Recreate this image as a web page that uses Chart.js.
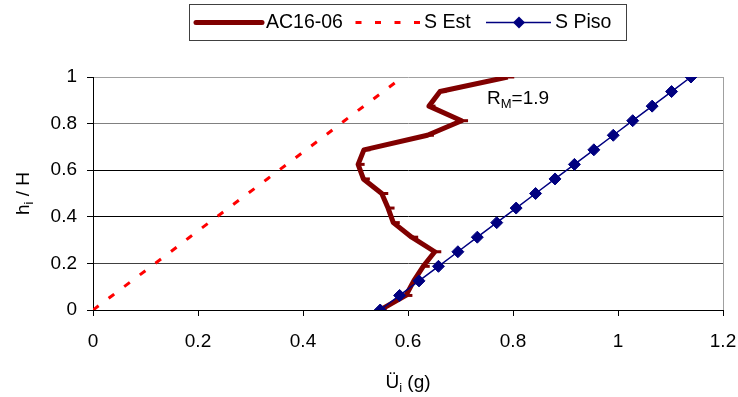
<!DOCTYPE html>
<html><head><meta charset="utf-8">
<script src="https://cdn.jsdelivr.net/npm/chart.js@4/dist/chart.umd.min.js"></script>
<style>html,body{margin:0;padding:0;background:#fff}#wrap{width:738px;height:397px}</style>
</head><body><div id="wrap"><canvas id="c" width="738" height="397"></canvas></div>
<script>
// ---- data ----
const levels = [0, 0.0625, 0.125, 0.1875, 0.25, 0.3125, 0.375, 0.4375, 0.5, 0.5625, 0.625, 0.6875, 0.75, 0.8125, 0.875, 0.9375, 1];
const acValues = [0.547, 0.596, 0.611, 0.629, 0.651, 0.607, 0.572, 0.562, 0.550, 0.515, 0.505, 0.516, 0.637, 0.702, 0.640, 0.661, 0.790];
const sEstValues = [0, 0.037, 0.074, 0.111, 0.148, 0.184, 0.221, 0.258, 0.295, 0.332, 0.369, 0.406, 0.443, 0.479, 0.516, 0.553, 0.590];
const sPisoValues = [0.547, 0.584, 0.621, 0.658, 0.695, 0.732, 0.769, 0.806, 0.843, 0.880, 0.917, 0.954, 0.991, 1.028, 1.065, 1.102, 1.139];
const seriesNames = ['AC16-06', 'S Est', 'S Piso'];
const xTickLabels = ['0', '0.2', '0.4', '0.6', '0.8', '1', '1.2'];
const yTickLabels = ['0', '0.2', '0.4', '0.6', '0.8', '1'];
const xTitle = [['Ü', false], ['i', true], [' (g)', false]];
const yTitle = [['h', false], ['i', true], [' / H', false]];
const note = [['R', false], ['M', true], ['=1.9', false]];

const FONT = '"Liberation Sans", Arial, sans-serif';
const toPts = (vals) => vals.map((v, i) => ({x: v, y: levels[i]}));

function runsWidth(ctx, runs, size, subSize) {
  let w = 0;
  runs.forEach(([t, sub]) => { ctx.font = (sub ? subSize : size) + 'px ' + FONT; w += ctx.measureText(t).width; });
  return w;
}
function drawRuns(ctx, runs, x, y, size, subSize, subDy) {
  runs.forEach(([t, sub]) => {
    ctx.font = (sub ? subSize : size) + 'px ' + FONT;
    ctx.fillText(t, x, sub ? y + subDy : y);
    x += ctx.measureText(t).width;
  });
}

const extras = {
  id: 'extras',
  afterDraw(chart) {
    const ctx = chart.ctx;
    const ca = chart.chartArea;
    ctx.save();
    ctx.fillStyle = '#000';
    ctx.textBaseline = 'alphabetic';
    ctx.textAlign = 'left';
    // x title
    let w = runsWidth(ctx, xTitle, 19, 13);
    drawRuns(ctx, xTitle, (ca.left + ca.right) / 2 - w / 2, 388, 19, 13, 4);
    // y title
    ctx.save();
    ctx.translate(29, (ca.top + ca.bottom) / 2);
    ctx.rotate(-Math.PI / 2);
    w = runsWidth(ctx, yTitle, 19, 13);
    drawRuns(ctx, yTitle, -w / 2, 0, 19, 13, 4);
    ctx.restore();
    // annotation
    drawRuns(ctx, note, 487, 104, 19, 13, 4);
    // legend
    ctx.fillStyle = '#fff';
    ctx.fillRect(190, 5, 436, 35);
    ctx.strokeStyle = '#404040';
    ctx.lineWidth = 1;
    ctx.strokeRect(189.5, 4.5, 437, 36);
    const ly = 22.5;
    const ds = chart.data.datasets;
    // AC16-06
    ctx.strokeStyle = ds[0].borderColor; ctx.lineWidth = 5; ctx.lineCap = 'round';
    ctx.beginPath(); ctx.moveTo(196, ly); ctx.lineTo(262, ly); ctx.stroke();
    // S Est
    ctx.strokeStyle = ds[1].borderColor; ctx.lineWidth = 3; ctx.lineCap = 'butt';
    ctx.setLineDash([6, 13.5]);
    ctx.beginPath(); ctx.moveTo(355.5, ly); ctx.lineTo(420, ly); ctx.stroke();
    ctx.setLineDash([]);
    // S Piso
    ctx.strokeStyle = ds[2].borderColor; ctx.lineWidth = 1.5;
    ctx.beginPath(); ctx.moveTo(486, ly); ctx.lineTo(551, ly); ctx.stroke();
    ctx.fillStyle = ds[2].pointBackgroundColor;
    ctx.beginPath(); ctx.moveTo(519, ly - 6); ctx.lineTo(525, ly); ctx.lineTo(519, ly + 6); ctx.lineTo(513, ly); ctx.closePath(); ctx.fill();
    ctx.fillStyle = '#000';
    ctx.font = '19.5px ' + FONT;
    ctx.textBaseline = 'middle';
    ctx.fillText(seriesNames[0], 266, ly);
    ctx.fillText(seriesNames[1], 424, ly);
    ctx.fillText(seriesNames[2], 555, ly);
    ctx.restore();
  }
};

const gridColorFor = (v) => {
  const k = Math.round(v * 10);
  if (k === 0) return 'rgba(0,0,0,0)';
  if (k === 10) return '#a0a0a0';
  if (k === 8) return '#808080';
  if (k === 2) return '#404040';
  return '#000';
};

new Chart(document.getElementById('c'), {
  type: 'scatter',
  data: {
    datasets: [
      { label: seriesNames[0], data: toPts(acValues), showLine: true, borderColor: '#800000', backgroundColor: '#800000',
        borderWidth: 5, borderJoinStyle: 'round', pointStyle: 'dash', pointRadius: 6.5, pointBorderWidth: 3,
        pointBorderColor: '#800000', pointHoverRadius: 6.5, order: 2 },
      { label: seriesNames[1], data: toPts(sEstValues), showLine: true, borderColor: '#ff0000', backgroundColor: '#ff0000',
        borderWidth: 3, borderDash: [7, 12.5], pointRadius: 0, pointHoverRadius: 0, order: 3 },
      { label: seriesNames[2], data: toPts(sPisoValues), showLine: true, borderColor: '#000080', backgroundColor: '#000080',
        borderWidth: 1.5, pointStyle: 'rectRot', pointRadius: 6, pointBorderWidth: 1, pointBackgroundColor: '#000080',
        pointBorderColor: '#000080', pointHoverRadius: 6, order: 1 }
    ]
  },
  options: {
    responsive: false,
    animation: false,
    devicePixelRatio: 1,
    layout: { padding: { top: 77, right: 15, left: 0, bottom: 0 } },
    plugins: { legend: { display: false }, tooltip: { enabled: false } },
    scales: {
      x: {
        type: 'linear', min: 0, max: 1.2,
        afterFit: (s) => { s.height = 87; s.paddingLeft = 0; s.paddingRight = 0; },
        afterBuildTicks: (s) => { s.ticks = xTickLabels.map(t => ({value: parseFloat(t)})); },
        ticks: { color: '#000', font: { family: FONT, size: 19 }, padding: 14, maxRotation: 0, autoSkip: false,
          callback: (v, i) => xTickLabels[i] },
        grid: { drawOnChartArea: true, tickLength: 6, tickColor: '#000', tickWidth: 1,
          color: (c) => (c.tick && Math.abs(c.tick.value - 1.2) < 1e-6) ? '#a0a0a0' : 'rgba(0,0,0,0)' },
        border: { color: '#000', width: 1 },
        title: { display: false }
      },
      y: {
        type: 'linear', min: 0, max: 1,
        afterFit: (s) => { s.width = 93; s.paddingTop = 0; s.paddingBottom = 0; },
        afterBuildTicks: (s) => { s.ticks = yTickLabels.map(t => ({value: parseFloat(t)})); },
        ticks: { color: '#000', font: { family: FONT, size: 19 }, padding: 10, autoSkip: false,
          callback: (v, i) => yTickLabels[i] },
        grid: { tickLength: 6, tickColor: '#000', tickWidth: 1,
          color: (c) => c.tick ? gridColorFor(c.tick.value) : '#000' },
        border: { color: '#000', width: 1 },
        title: { display: false }
      }
    }
  },
  plugins: [extras]
});
</script>
</body></html>
